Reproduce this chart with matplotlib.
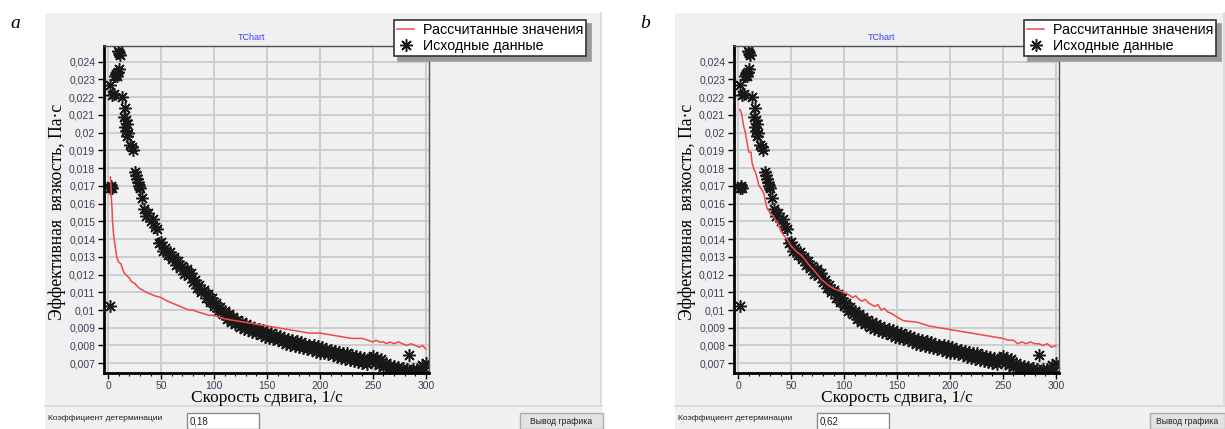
import matplotlib
matplotlib.use('Agg')
import matplotlib.pyplot as plt
from matplotlib.patches import Rectangle
from matplotlib.lines import Line2D
from matplotlib.ticker import MultipleLocator, FuncFormatter

plt.rcParams['font.family'] = ['Liberation Sans', 'DejaVu Sans']

# исходные данные (общие для обеих панелей): начальный участок
early_rate = [2, 2, 3, 4, 2, 4, 5, 6, 7, 8,
              10, 9, 10, 11, 9, 13, 16, 15, 17, 18,
              16, 17, 19, 18, 21, 22, 23, 25, 26, 27,
              28, 29, 30, 32]
early_visc = [0.0102, 0.0169, 0.0170, 0.0169, 0.0227, 0.0221, 0.0222, 0.0232, 0.0233, 0.0232,
              0.0236, 0.0246, 0.0245, 0.0244, 0.0234, 0.0220, 0.0214, 0.0209, 0.0207, 0.0205,
              0.0203, 0.0201, 0.0200, 0.0198, 0.0193, 0.0192, 0.0190, 0.0178, 0.0176, 0.0174,
              0.0172, 0.0170, 0.0169, 0.0163]

# основная полоса точек
band_rate = [34, 36, 38, 40, 42, 44, 46, 48, 50, 52,
             54, 56, 58, 60, 62, 64, 66, 68, 70, 72,
             74, 76, 78, 80, 82, 84, 86, 88, 90, 92,
             94, 96, 98, 100, 102, 104, 106, 108, 110, 112,
             114, 116, 118, 120, 122, 124, 126, 128, 130, 132,
             134, 136, 138, 140, 142, 144, 146, 148, 150, 152,
             154, 156, 158, 160, 162, 164, 166, 168, 170, 172,
             174, 176, 178, 180, 182, 184, 186, 188, 190, 192,
             194, 196, 198, 200, 202, 204, 206, 208, 210, 212,
             214, 216, 218, 220, 222, 224, 226, 228, 230, 232,
             234, 236, 238, 240, 242, 244, 246, 248, 250, 252,
             254, 256, 258, 260, 262, 264, 266, 268, 270, 272,
             274, 276, 278, 280, 282, 284, 286, 288, 290, 292,
             294, 296, 298, 300]
band_visc = [0.01570, 0.01530, 0.01545, 0.01500, 0.01515, 0.01470, 0.01455, 0.01380, 0.01385, 0.01335,
             0.01350, 0.01310, 0.01325, 0.01285, 0.01300, 0.01255, 0.01275, 0.01235, 0.01250, 0.01205,
             0.01230, 0.01195, 0.01210, 0.01160, 0.01170, 0.01125, 0.01140, 0.01100, 0.01115, 0.01070,
             0.01090, 0.01045, 0.01065, 0.01020, 0.01040, 0.00995, 0.01015, 0.00975, 0.00995, 0.00950,
             0.00975, 0.00935, 0.00960, 0.00920, 0.00945, 0.00905, 0.00930, 0.00895, 0.00920, 0.00885,
             0.00910, 0.00875, 0.00900, 0.00870, 0.00895, 0.00860, 0.00885, 0.00850, 0.00875, 0.00845,
             0.00870, 0.00835, 0.00860, 0.00830, 0.00855, 0.00820, 0.00845, 0.00810, 0.00835, 0.00805,
             0.00830, 0.00795, 0.00825, 0.00790, 0.00820, 0.00785, 0.00810, 0.00780, 0.00805, 0.00775,
             0.00800, 0.00765, 0.00795, 0.00760, 0.00790, 0.00755, 0.00780, 0.00750, 0.00775, 0.00745,
             0.00770, 0.00735, 0.00765, 0.00730, 0.00760, 0.00725, 0.00755, 0.00720, 0.00745, 0.00715,
             0.00740, 0.00705, 0.00735, 0.00700, 0.00730, 0.00695, 0.00720, 0.00730, 0.00740, 0.00700,
             0.00730, 0.00690, 0.00725, 0.00680, 0.00700, 0.00665, 0.00690, 0.00660, 0.00685, 0.00655,
             0.00680, 0.00650, 0.00675, 0.00650, 0.00670, 0.00745, 0.00655, 0.00665, 0.00650, 0.00670,
             0.00650, 0.00690, 0.00655, 0.00700]

# рассчитанные значения, панель a
calc_a_x = [2, 2.5, 3, 3.5, 4, 5, 6, 7, 8, 9,
            10, 12, 13, 15, 18, 20, 22, 25, 28, 30,
            33, 36, 40, 44, 47, 50, 53, 56, 60, 64,
            68, 72, 76, 80, 84, 90, 95, 100, 105, 110,
            120, 130, 140, 150, 160, 170, 180, 190, 200, 210,
            220, 230, 240, 245, 250, 253, 256, 260, 263, 266,
            270, 274, 278, 282, 286, 290, 294, 297, 300]
calc_a_y = [0.0175, 0.0170, 0.0162, 0.0158, 0.0150, 0.0143, 0.0138, 0.0134, 0.0130, 0.0128,
            0.0127, 0.0126, 0.0124, 0.0121, 0.0119, 0.0118, 0.0116, 0.0115, 0.0113, 0.0112,
            0.0111, 0.0110, 0.0109, 0.0108, 0.01075, 0.0107, 0.0106, 0.0105, 0.0104, 0.0103,
            0.0102, 0.0101, 0.0100, 0.0100, 0.0099, 0.0098, 0.0097, 0.0097, 0.0096, 0.0095,
            0.0094, 0.0093, 0.0092, 0.0091, 0.0090, 0.0089, 0.0088, 0.0087, 0.0087, 0.0086,
            0.0085, 0.0084, 0.0084, 0.0083, 0.0082, 0.0083, 0.0082, 0.0082, 0.0081, 0.0082,
            0.0081, 0.0082, 0.0081, 0.0080, 0.0081, 0.0080, 0.0079, 0.0080, 0.0078]

# рассчитанные значения, панель b
calc_b_x = [1.5, 3, 5, 7, 9, 10, 12, 13, 15, 16,
            18, 19.5, 21, 23, 24.5, 26, 27.5, 30, 33, 35,
            38, 40, 43, 46, 50, 55, 61, 66, 72, 79,
            85, 90, 95, 100, 103, 106, 108, 111, 114, 117,
            120, 123, 126, 129, 132, 135, 138, 141, 145, 150,
            156, 170, 180, 190, 200, 210, 220, 230, 240, 250,
            255, 260, 264, 268, 272, 276, 280, 284, 288, 292,
            296, 300]
calc_b_y = [0.0213, 0.0211, 0.0204, 0.0199, 0.0192, 0.0189, 0.0189, 0.0183, 0.0179, 0.0178,
            0.0174, 0.0170, 0.0169, 0.0167, 0.0165, 0.0160, 0.0157, 0.0155, 0.0153, 0.0151,
            0.0148, 0.0145, 0.0142, 0.0140, 0.0136, 0.0133, 0.0130, 0.0126, 0.0122, 0.0117,
            0.0114, 0.0112, 0.0111, 0.0110, 0.0109, 0.0108, 0.0107, 0.0108, 0.0106, 0.0105,
            0.0106, 0.0104, 0.0103, 0.0102, 0.0103, 0.0100, 0.0101, 0.0099, 0.0098, 0.0096,
            0.0094, 0.0093, 0.0091, 0.0090, 0.0089, 0.0088, 0.0087, 0.0086, 0.0085, 0.0084,
            0.0083, 0.0083, 0.0081, 0.0082, 0.0081, 0.0082, 0.0081, 0.0081, 0.0080, 0.0081,
            0.0079, 0.0080]

panel_letters = ['a', 'b']
r2_values = ['0,18', '0,62']
calc_series = [(calc_a_x, calc_a_y), (calc_b_x, calc_b_y)]

shear_rate = early_rate + band_rate
viscosity = early_visc + band_visc

W, H = 1225, 429
fig = plt.figure(figsize=(W / 100, H / 100), dpi=100)
fig.patch.set_facecolor('white')


def fx(x):
    return x / W


def fy(y):
    return 1 - y / H


grey = '#f0f0f0'

for i, dx in enumerate([0, 630]):
    # фон окна
    right = min(602 + dx, W)
    fig.patches.append(Rectangle((fx(45 + dx), 0), fx(right - 45 - dx), fy(13),
                                 transform=fig.transFigure, facecolor=grey, edgecolor='none', zorder=-5))
    fig.lines.append(Line2D([fx(45 + dx), fx(right)], [fy(406), fy(406)],
                            transform=fig.transFigure, color='#d6d6d6', lw=1.2, zorder=-4))
    fig.lines.append(Line2D([fx(right - 1), fx(right - 1)], [fy(406), fy(13)],
                            transform=fig.transFigure, color='#dadada', lw=1.2, zorder=-4))

    fig.text(fx(15 + dx), fy(24), panel_letters[i], family='Liberation Serif', style='italic',
             fontsize=14, ha='center', va='center')

    ax = fig.add_axes([fx(103.5 + dx), fy(373), fx(429 - 103.5), (373 - 46) / H])
    ax.set_facecolor(grey)
    ax.set_xlim(-4.5, 303)
    ax.set_ylim(0.00645, 0.02488)

    ax.grid(True, color='#cdcdcd', lw=1.4)
    ax.set_axisbelow(True)

    cx, cy = calc_series[i]
    ax.plot(cx, cy, color='#f04848', lw=1.1, label='Рассчитанные значения', zorder=3)
    ax.plot(shear_rate, viscosity, linestyle='none', marker=(8, 2, 0), ms=9, mew=1.1,
            color='#181818', label='Исходные данные', zorder=2)

    ax.xaxis.set_major_locator(MultipleLocator(50))
    ax.xaxis.set_minor_locator(MultipleLocator(10))
    ax.yaxis.set_major_locator(MultipleLocator(0.001))
    ax.yaxis.set_major_formatter(FuncFormatter(lambda v, _: f'{v:.3f}'.rstrip('0').replace('.', ',')))
    ax.tick_params(axis='both', which='major', direction='out', length=4, width=1,
                   labelsize=7.5, labelcolor='#3e3e58', pad=2)
    ax.tick_params(axis='x', which='minor', direction='out', length=2, width=0.8)

    for side in ['left', 'bottom']:
        ax.spines[side].set_linewidth(2)
        ax.spines[side].set_color('black')
    for side in ['top', 'right']:
        ax.spines[side].set_linewidth(1)
        ax.spines[side].set_color('#505050')

    fig.text(fx(252 + dx), fy(37), 'TChart', color='#3c3cff', fontsize=6.5, ha='center', va='center')
    fig.text(fx(267 + dx), fy(398), 'Скорость сдвига, 1/с', family='Liberation Serif',
             fontsize=12.5, ha='center', va='center')
    fig.text(fx(57 + dx), fy(212), 'Эффективная  вязкость, Па·с', family='Liberation Serif',
             fontsize=12.7, rotation=90, ha='center', va='center')

    leg = ax.legend(loc='upper left', bbox_to_anchor=(fx(394 + dx), fy(20)),
                    bbox_transform=fig.transFigure, fontsize=10.3, frameon=True, fancybox=False,
                    shadow={'ox': 3, 'oy': -3, 'color': '#9a9a9a', 'alpha': 1},
                    borderpad=0.22, handlelength=1.2, handletextpad=0.6, labelspacing=0.15,
                    borderaxespad=0, markerscale=1.0)
    leg.get_frame().set_edgecolor('#333333')
    leg.get_frame().set_linewidth(1.2)
    leg.get_frame().set_facecolor('white')
    leg.set_zorder(10)

    # нижняя строка формы
    fig.text(fx(48 + dx), fy(419), 'Коэффициент детерминации', fontsize=6, color='#202020',
             ha='left', va='center')
    fig.patches.append(Rectangle((fx(187 + dx), 0), fx(72), fy(413), transform=fig.transFigure,
                                 facecolor='white', edgecolor='#8a8a8a', lw=1, zorder=1))
    fig.text(fx(190 + dx), fy(421), r2_values[i], fontsize=7, color='#202020', ha='left', va='center')
    bw = min(83, W - 520 - dx)
    fig.patches.append(Rectangle((fx(520 + dx), 0), fx(bw), fy(413), transform=fig.transFigure,
                                 facecolor='#e3e3e3', edgecolor='#acacac', lw=1, zorder=1))
    fig.text(fx(520 + dx + bw / 2), fy(421), 'Вывод графика', fontsize=6.2, color='#202020',
             ha='center', va='center')

fig.savefig('out.png', dpi=100, facecolor='white')
